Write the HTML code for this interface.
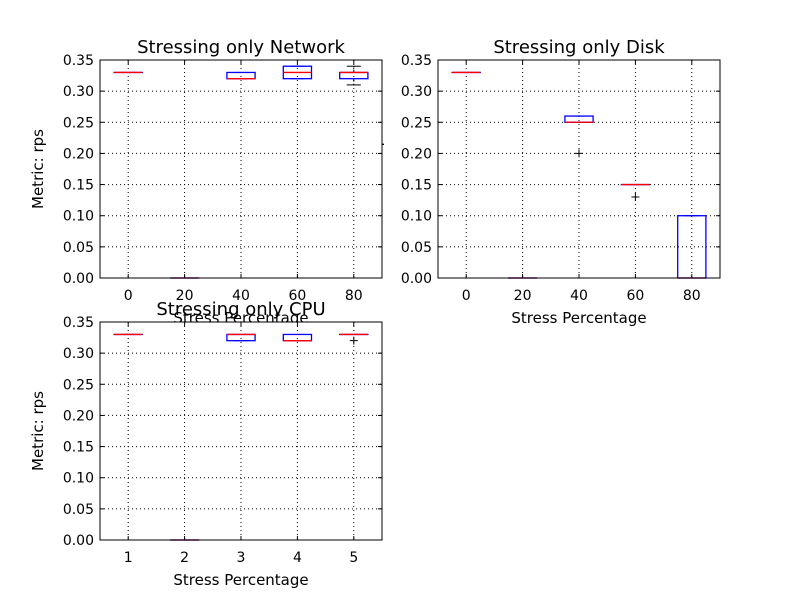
<!DOCTYPE html>
<html><head><meta charset="utf-8"><style>body{margin:0;background:#fff}svg{display:block;font-family:"DejaVu Sans","Liberation Sans",sans-serif}</style></head>
<body>
<svg id="c" width="800" height="600" xmlns="http://www.w3.org/2000/svg"></svg>
<script>
const netLabels=["0","20","40","60","80"];
const netQ1=[0.33,0,0.32,0.32,0.32];
const netMed=[0.33,0,0.32,0.33,0.33];
const netQ3=[0.33,0,0.33,0.34,0.33];
const netLo=[0.33,0,0.32,0.32,0.31];
const netHi=[0.33,0,0.33,0.34,0.34];
const netOut=[[],[],[],[],[]];
const diskLabels=["0","20","40","60","80"];
const diskQ1=[0.33,0,0.25,0.15,0];
const diskMed=[0.33,0,0.25,0.15,0];
const diskQ3=[0.33,0,0.26,0.15,0.10];
const diskLo=[0.33,0,0.25,0.15,0];
const diskHi=[0.33,0,0.26,0.15,0.10];
const diskOut=[[],[],[0.20],[0.13],[]];
const cpuLabels=["1","2","3","4","5"];
const cpuQ1=[0.33,0,0.32,0.32,0.33];
const cpuMed=[0.33,0,0.33,0.32,0.33];
const cpuQ3=[0.33,0,0.33,0.33,0.33];
const cpuLo=[0.33,0,0.32,0.32,0.33];
const cpuHi=[0.33,0,0.33,0.33,0.33];
const cpuOut=[[],[],[],[],[0.32]];
const yTicks=[0,0.05,0.10,0.15,0.20,0.25,0.30,0.35];

const svg=document.getElementById('c');
const NS="http://www.w3.org/2000/svg";
function mk(tag,attrs,parent,text){const e=document.createElementNS(NS,tag);for(const k in attrs)e.setAttribute(k,attrs[k]);if(text!==undefined)e.textContent=text;(parent||svg).appendChild(e);return e;}

const hl=mk('text',{x:0,y:0,'font-size':15,'text-anchor':'middle',transform:'translate(381,169) rotate(-90)'},svg,'Metric: rps');



function panel(name,L,T,title,labels,q1,med,q3,lo,hi,out,xlabel,ylabel){
  const W=282,H=218,R=L+W,B=T+H;
  const g=mk('g',{});
  
  
  const bg=mk('rect',{x:L,y:T,width:W,height:H,fill:'#fff'},g);
  
  
  const n=labels.length;
  const xs=i=>L+(i+0.5)*W/n;
  const ys=v=>B-v/0.35*H;
  const bw=W/n*0.5, cw=bw*0.5;
  yTicks.forEach(t=>{
    const y=ys(t);
    mk('line',{x1:L,x2:R,y1:y,y2:y,stroke:'#000','stroke-dasharray':'1,3','stroke-width':1},g);
    mk('line',{x1:L,x2:L+4,y1:y,y2:y,stroke:'#000'},g);
    mk('line',{x1:R-4,x2:R,y1:y,y2:y,stroke:'#000'},g);
    const tl=mk('text',{x:L-6,y:y+5,'font-size':14,'text-anchor':'end'},g,t.toFixed(2));
    
    
  });
  labels.forEach((lab,i)=>{
    const x=xs(i);
    mk('line',{x1:x,x2:x,y1:T,y2:B,stroke:'#000','stroke-dasharray':'1,3'},g);
    mk('line',{x1:x,x2:x,y1:B,y2:B-4,stroke:'#000'},g);
    mk('line',{x1:x,x2:x,y1:T,y2:T+4,stroke:'#000'},g);
    const tl=mk('text',{x:x,y:B+22,'font-size':14,'text-anchor':'middle'},g,lab);
    
    
    mk('line',{x1:x,x2:x,y1:ys(q3[i]),y2:ys(hi[i]),stroke:'#000','stroke-dasharray':'3,2'},g);
    mk('line',{x1:x,x2:x,y1:ys(q1[i]),y2:ys(lo[i]),stroke:'#000','stroke-dasharray':'3,2'},g);
    mk('line',{x1:x-cw/2,x2:x+cw/2,y1:ys(hi[i]),y2:ys(hi[i]),stroke:'#000'},g);
    mk('line',{x1:x-cw/2,x2:x+cw/2,y1:ys(lo[i]),y2:ys(lo[i]),stroke:'#000'},g);
    const bx=mk('rect',{x:x-bw/2,y:ys(q3[i]),width:bw,height:Math.max(0.01,ys(q1[i])-ys(q3[i])),fill:'none',stroke:'#00f','stroke-width':1.3},g);
    
    
    mk('line',{x1:x-bw/2,x2:x+bw/2,y1:ys(med[i]),y2:ys(med[i]),stroke:'#f00','stroke-width':1.3},g);
    out[i].forEach(o=>{
      const y=ys(o);
      const p=mk('path',{d:`M${x-4},${y}H${x+4}M${x},${y-4}V${y+4}`,stroke:'#000'},g);
      
      
    });
  });
  mk('rect',{x:L,y:T,width:W,height:H,fill:'none',stroke:'#000','stroke-width':1},g);
  const tt=mk('text',{x:L+W/2,y:T-7,'font-size':18,'text-anchor':'middle'},g,title);
  
  
  const xl=mk('text',{x:L+W/2,y:B+45,'font-size':15,'text-anchor':'middle'},g,xlabel);
  
  
  if(ylabel){
    const yl=mk('text',{x:0,y:0,'font-size':15,'text-anchor':'middle',transform:`translate(${L-57},${T+H/2}) rotate(-90)`},g,ylabel);
    
    
  }
  return g;
}
panel('network-panel',100,60,'Stressing only Network',netLabels,netQ1,netMed,netQ3,netLo,netHi,netOut,'Stress Percentage','Metric: rps');
panel('disk-panel',438,60,'Stressing only Disk',diskLabels,diskQ1,diskMed,diskQ3,diskLo,diskHi,diskOut,'Stress Percentage',null);
panel('cpu-panel',100,322,'Stressing only CPU',cpuLabels,cpuQ1,cpuMed,cpuQ3,cpuLo,cpuHi,cpuOut,'Stress Percentage','Metric: rps');
</script>
</body></html>
